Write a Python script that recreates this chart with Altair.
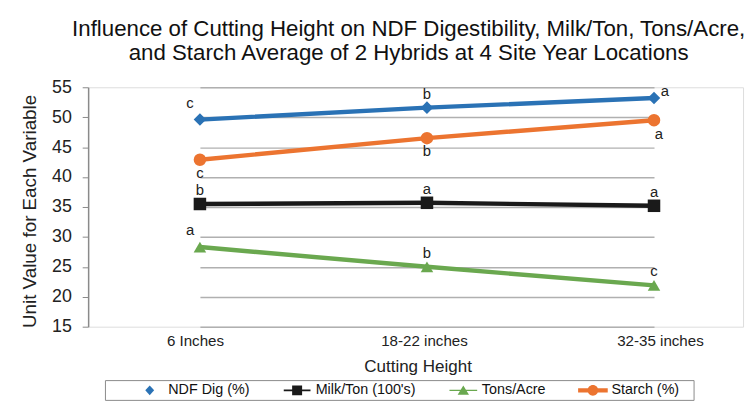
import altair as alt
import pandas as pd

# ---- data ----
categories = ["6 Inches", "18-22 inches", "32-35 inches"]
series_names = ["NDF Dig (%)", "Milk/Ton (100's)", "Tons/Acre", "Starch (%)"]
ndf_dig = [49.6, 51.6, 53.2]
milk_ton = [35.5, 35.7, 35.2]
tons_acre = [28.3, 25.0, 21.9]
starch = [42.9, 46.5, 49.5]
ndf_letters = ["c", "b", "a"]
milk_letters = ["b", "a", "a"]
tons_letters = ["a", "b", "c"]
starch_letters = ["c", "b", "a"]
# where each significance letter sits relative to its point
ndf_place = ["above-left", "above", "right"]
milk_place = ["above", "above", "above"]
tons_place = ["above-left", "above", "above"]
starch_place = ["below", "below", "below-right"]

title_lines = [
    "Influence of Cutting Height on NDF Digestibility, Milk/Ton, Tons/Acre,",
    "and Starch Average of 2 Hybrids at 4 Site Year Locations",
]
y_ticks = [15, 20, 25, 30, 35, 40, 45, 50, 55]

colors = ["#2a72b5", "#1a1a1a", "#6aa84f", "#ec7430"]
shapes = ["diamond", "square", "triangle-up", "circle"]
# legend keys: marker with (or without) a line through it
legend_shapes = [
    "M0,-0.7L0.64,0L0,0.7L-0.64,0Z",
    "M-1.93,-0.14H1.93V0.14H-1.93Z M-0.72,-0.72H0.72V0.72H-0.72Z",
    "M-2,-0.08H2V0.08H-2Z M0,-0.72L0.82,0.62H-0.82Z",
    "M-2.14,-0.3H2.14V0.3H-2.14Z M-0.78,0A0.78,0.78 0 1,1 0.78,0A0.78,0.78 0 1,1 -0.78,0Z",
]

rows = []
for name, vals, lets, places in zip(
    series_names,
    [ndf_dig, milk_ton, tons_acre, starch],
    [ndf_letters, milk_letters, tons_letters, starch_letters],
    [ndf_place, milk_place, tons_place, starch_place],
):
    for c, v, l, p in zip(categories, vals, lets, places):
        rows.append({"series": name, "key": name, "height": c, "value": v, "letter": l, "place": p})
df = pd.DataFrame(rows)

FONT = "Liberation Sans"

x_enc = alt.X(
    "height:N",
    sort=categories,
    scale=alt.Scale(type="point", range=[113, 572], padding=0),
    axis=alt.Axis(
        title="Cutting Height",
        labelAngle=0,
        labelFontSize=15.3,
        labelFont=FONT,
        labelColor="#222",
        labelPadding=7,
        ticks=False,
        domain=False,
        titleFont=FONT,
        titleFontSize=17.2,
        titleFontWeight="normal",
        titleColor="#222",
        titleX=333,
        titleY=45,
        titleBaseline="alphabetic",
        labelOffset={
            "condition": [
                {"test": "datum.value === '6 Inches'", "value": -5},
                {"test": "datum.value === '18-22 inches'", "value": -3},
            ],
            "value": 6,
        },
    ),
)
y_enc = alt.Y(
    "value:Q",
    scale=alt.Scale(domain=[15, 55], nice=False, zero=False),
    axis=alt.Axis(
        title="Unit Value for Each Variable",
        values=y_ticks,
        labelFontSize=18,
        labelFont=FONT,
        labelColor="#222",
        labelPadding=11,
        tickSize=6,
        tickColor="#8a8a8a",
        domainColor="#8a8a8a",
        domainWidth=1.5,
        gridColor="#b0b0b0",
        gridWidth=1.5,
        titleFont=FONT,
        titleFontSize=19,
        titleFontWeight="normal",
        titleColor="#222",
        titleX=-59,
        titleY=125,
        titleBaseline="middle",
        titleAlign="center",
    ),
)

base = alt.Chart(df)

lines = base.mark_line(strokeWidth=4.5).encode(
    x=x_enc, y=y_enc,
    color=alt.Color("series:N", scale=alt.Scale(domain=series_names, range=colors), legend=None),
    detail="series:N",
)

points = base.mark_point(filled=True, opacity=1, size=160, strokeWidth=0).encode(
    x=x_enc, y=y_enc,
    color=alt.Color("series:N", scale=alt.Scale(domain=series_names, range=colors), legend=None),
    shape=alt.Shape("series:N", scale=alt.Scale(domain=series_names, range=shapes), legend=None),
)

legend_props = dict(
    title="\u00a0",
    titleOrient="right",
    titlePadding=12,
    titleFontSize=6,
    orient="none",
    legendX=17,
    legendY=296,
    direction="horizontal",
    columns=4,
    symbolSize=196,
    symbolStrokeWidth=0,
    symbolOpacity=1,
    symbolOffset=35,
    labelFont=FONT,
    labelFontSize=14.5,
    labelColor="#111",
    labelOffset=11.5,
    columnPadding=5,
    padding=3,
    strokeColor="#8a8a8a",
    fillColor="white",
)

legend_layer = base.mark_point(filled=True, opacity=0, size=1, strokeWidth=0).encode(
    x=x_enc, y=y_enc,
    color=alt.Color("key:N", scale=alt.Scale(domain=series_names, range=colors),
                    legend=alt.Legend(**legend_props)),
    shape=alt.Shape("key:N", scale=alt.Scale(domain=series_names, range=legend_shapes),
                    legend=alt.Legend(**legend_props)),
)

place_offsets = {
    "above": (0, -14),
    "above-left": (-10, -17),
    "right": (11, -7),
    "below": (0, 13),
    "below-right": (5, 14),
}
text_layers = []
for p, (dx, dy) in place_offsets.items():
    text_layers.append(
        base.transform_filter(alt.datum.place == p)
        .mark_text(dx=dx, dy=dy, fontSize=15, font=FONT, color="#222", align="center", baseline="middle")
        .encode(x=x_enc, y=y_enc, text="letter:N")
    )

chart = (
    alt.layer(lines, points, legend_layer, *text_layers)
    .resolve_scale(color="independent", shape="independent")
    .properties(
        width=662,
        height=242,
        autosize=alt.AutoSizeParams(type="none"),
        padding={"left": 81, "top": 78, "right": 4, "bottom": 75},
        title=alt.TitleParams(
            text=title_lines,
            font=FONT,
            fontSize=22.5,
            fontWeight="normal",
            color="#111",
            anchor="middle",
            frame="group",
            dx=-7,
            lineHeight=24,
            offset=14,
        ),
    )
    .configure_view(stroke=None)
    .configure(background="white")
)

chart.save("out.html", embed_options={"renderer": "svg", "actions": False})
